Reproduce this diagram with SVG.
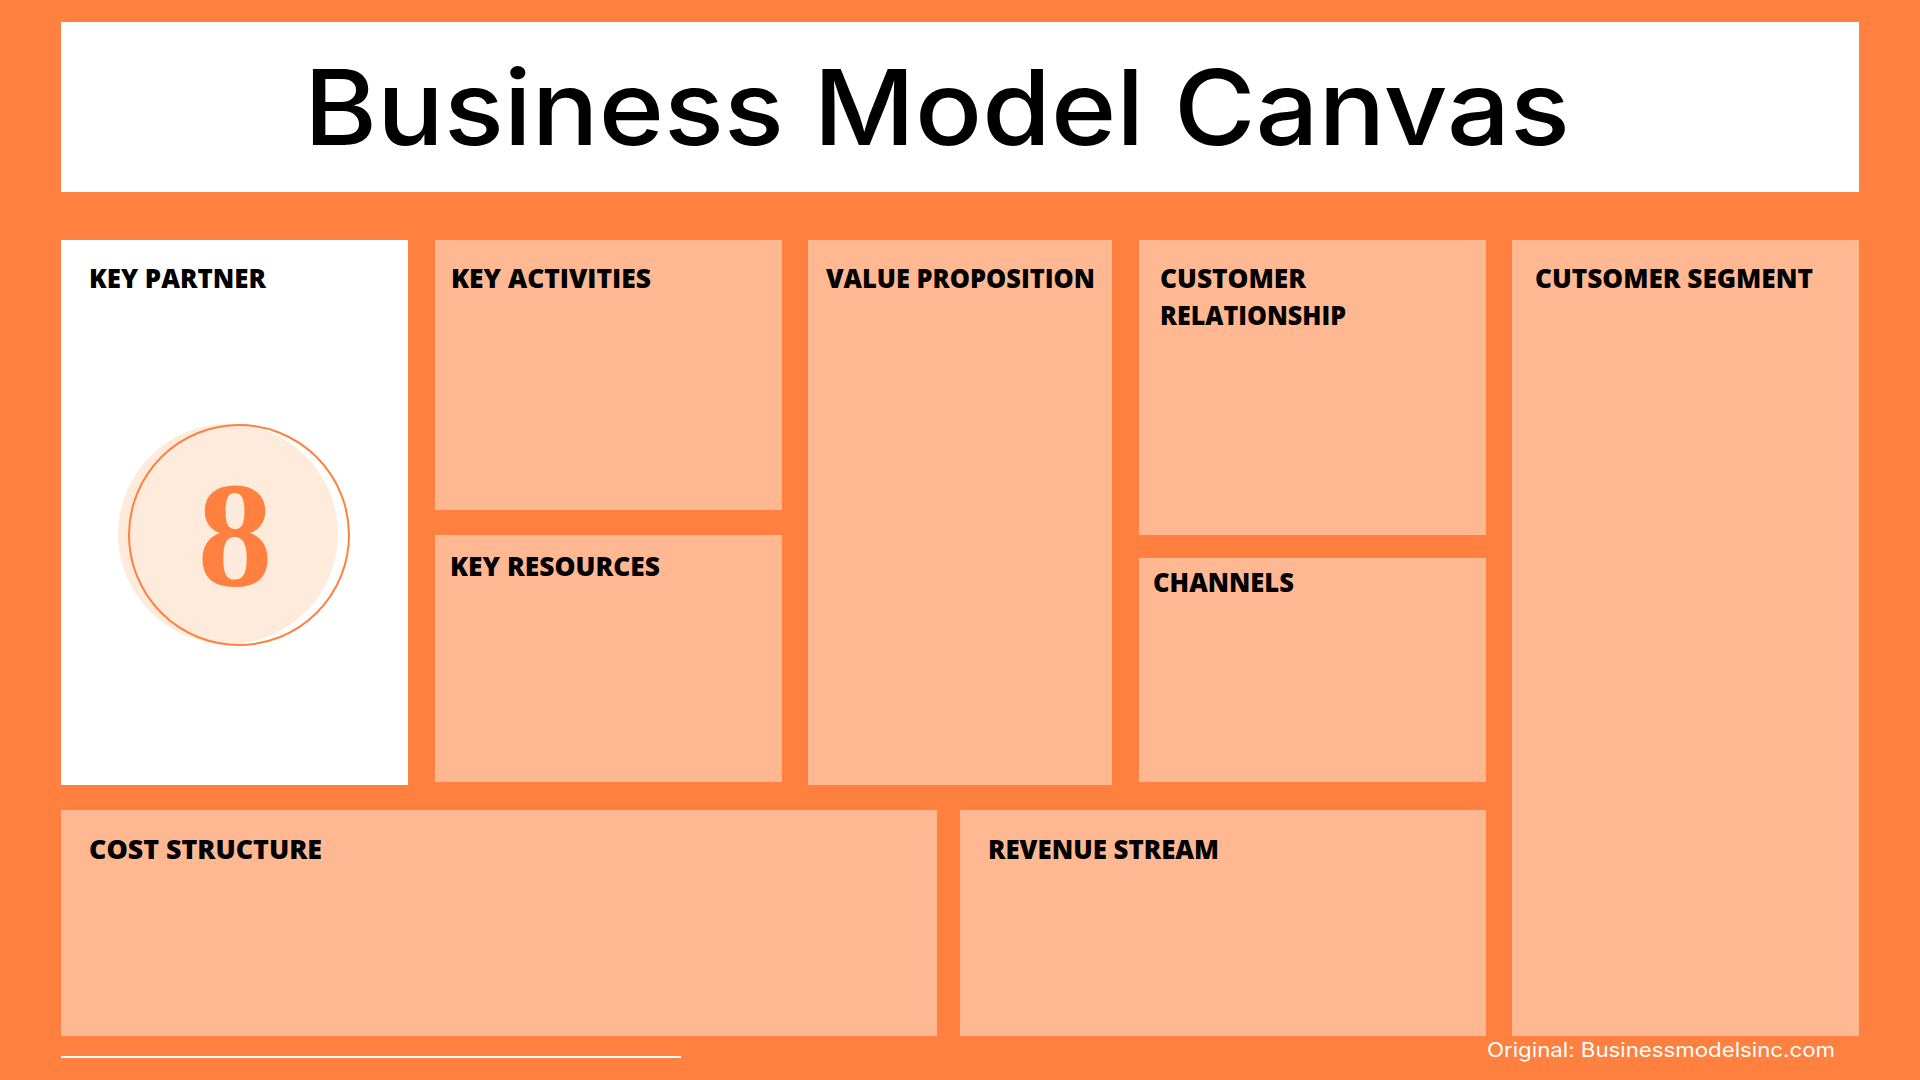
<svg xmlns="http://www.w3.org/2000/svg" width="1920" height="1080" viewBox="0 0 1920 1080">
<style>
.box{fill:#FFB892}
.white{fill:#FFFFFF}
.lbl{font-family:"Open Sans","Liberation Sans",sans-serif;font-weight:800;font-size:26px;fill:#000000}
</style>
<rect x="0" y="0" width="1920" height="1080" fill="#FF803F"/>
<g id="title">
<rect class="white" x="61" y="22" width="1798" height="170"/>
<text x="304" y="145" font-family="Inter,'Liberation Sans',sans-serif" font-weight="500" font-size="104" textLength="1266" lengthAdjust="spacingAndGlyphs" fill="#000000">Business Model Canvas</text>
</g>
<g id="key-partner">
<rect class="white" x="61" y="240" width="347" height="545"/>
<text class="lbl" x="89" y="288" textLength="177" lengthAdjust="spacingAndGlyphs">KEY PARTNER</text>
<circle cx="228" cy="534" r="110" fill="#FEEBDC"/>
<circle cx="239" cy="535" r="110" fill="none" stroke="#FF803F" stroke-width="2"/>
<text x="235" y="586" text-anchor="middle" font-family="'Liberation Serif','DejaVu Serif',serif" font-weight="bold" font-size="150" fill="#FF803F">8</text>
</g>
<g id="key-activities">
<rect class="box" x="435" y="240" width="347" height="270"/>
<text class="lbl" x="451" y="288" textLength="200" lengthAdjust="spacingAndGlyphs">KEY ACTIVITIES</text>
</g>
<g id="key-resources">
<rect class="box" x="435" y="535" width="347" height="247"/>
<text class="lbl" x="450" y="576" textLength="210" lengthAdjust="spacingAndGlyphs">KEY RESOURCES</text>
</g>
<g id="value-proposition">
<rect class="box" x="808" y="240" width="304" height="545"/>
<text class="lbl" x="826" y="288" textLength="269" lengthAdjust="spacingAndGlyphs">VALUE PROPOSITION</text>
</g>
<g id="customer-relationship">
<rect class="box" x="1139" y="240" width="347" height="295"/>
<text class="lbl" x="1160" y="288" textLength="146" lengthAdjust="spacingAndGlyphs">CUSTOMER</text>
<text class="lbl" x="1160" y="325" textLength="186" lengthAdjust="spacingAndGlyphs">RELATIONSHIP</text>
</g>
<g id="channels">
<rect class="box" x="1139" y="558" width="347" height="224"/>
<text class="lbl" x="1153" y="592" textLength="141" lengthAdjust="spacingAndGlyphs">CHANNELS</text>
</g>
<g id="customer-segment">
<rect class="box" x="1512" y="240" width="347" height="796"/>
<text class="lbl" x="1535" y="288" textLength="278" lengthAdjust="spacingAndGlyphs">CUTSOMER SEGMENT</text>
</g>
<g id="cost-structure">
<rect class="box" x="61" y="810" width="876" height="226"/>
<text class="lbl" x="89" y="859" textLength="233" lengthAdjust="spacingAndGlyphs">COST STRUCTURE</text>
</g>
<g id="revenue-stream">
<rect class="box" x="960" y="810" width="526" height="226"/>
<text class="lbl" x="988" y="859" textLength="231" lengthAdjust="spacingAndGlyphs">REVENUE STREAM</text>
</g>
<g id="connectors"></g>
<g id="footer">
<line x1="61" y1="1057" x2="681" y2="1057" stroke="#FFFFFF" stroke-width="2"/>
<text x="1487" y="1057" font-family="Inter,'Liberation Sans',sans-serif" font-size="20" fill="#FFFFFF" textLength="348" lengthAdjust="spacingAndGlyphs">Original: Businessmodelsinc.com</text>
</g>
</svg>
